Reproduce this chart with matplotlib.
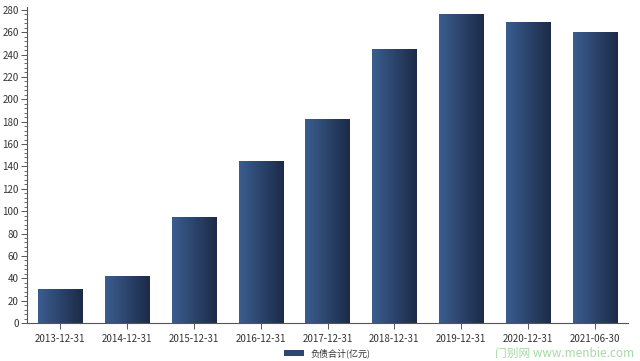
import matplotlib
matplotlib.use("Agg")
import matplotlib.pyplot as plt
import numpy as np
from matplotlib.colors import LinearSegmentedColormap
from matplotlib.patches import Rectangle
from matplotlib.ticker import MultipleLocator

plt.rcParams['font.family'] = ['Noto Sans CJK SC', 'DejaVu Sans']

# data
dates = ["2013-12-31", "2014-12-31", "2015-12-31", "2016-12-31", "2017-12-31",
         "2018-12-31", "2019-12-31", "2020-12-31", "2021-06-30"]
liabilities = [30, 42, 95, 145, 182, 245, 276, 269, 260]
series_name = "负债合计(亿元)"

grad = LinearSegmentedColormap.from_list("bar", ["#3a5d8f", "#1c2b48"])
BAR_W = 0.66

fig = plt.figure(figsize=(6.4, 3.61), dpi=100)
ax = fig.add_axes([27 / 640, 1 - 323 / 361, 601 / 640, 316 / 361])

x = np.arange(len(dates))
bars = ax.bar(x, liabilities, width=BAR_W, color="none")
g = np.linspace(0, 1, 64).reshape(1, -1)
for b in bars:
    x0, w, h = b.get_x(), b.get_width(), b.get_height()
    im = ax.imshow(g, cmap=grad, aspect="auto", extent=(x0, x0 + w, 0, h),
                   interpolation="bilinear", zorder=2)
    rect = Rectangle((x0, 0), w, h, transform=ax.transData, facecolor="none")
    im.set_clip_path(rect)

ax.set_xlim(-0.5, len(dates) - 0.5)
ax.set_ylim(0, 282.5)
ax.set_xticks(x)
ax.set_xticklabels(dates)
ax.yaxis.set_major_locator(MultipleLocator(20))
ax.yaxis.set_minor_locator(MultipleLocator(4))

for s in ["top", "right"]:
    ax.spines[s].set_visible(False)
for s in ["left", "bottom"]:
    ax.spines[s].set_color("#555555")
    ax.spines[s].set_linewidth(0.8)
ax.tick_params(axis="both", colors="#555555", labelcolor="#333333", labelsize=7,
               length=4, width=0.7, pad=2)
ax.tick_params(axis="y", which="minor", length=2, width=0.6, colors="#555555")
ax.tick_params(axis="x", pad=4)

# legend
leg_ax_rect = Rectangle((284 / 640, 1 - 356 / 361), 20 / 640, 6 / 361,
                        transform=fig.transFigure, facecolor="#2c4670", edgecolor="none")
fig.patches.append(leg_ax_rect)
fig.text(310 / 640, 1 - 353 / 361, series_name, fontsize=6.5, color="#333333",
         va="center", ha="left")

# watermark
fig.text(634 / 640, 1 - 353 / 361, "门别网 www.menbie.com", fontsize=8.5,
         color="#8fd08f", alpha=0.8, va="center", ha="right",
         family=["Noto Sans CJK SC", "DejaVu Sans Mono"])

fig.savefig("out.png", dpi=100)
